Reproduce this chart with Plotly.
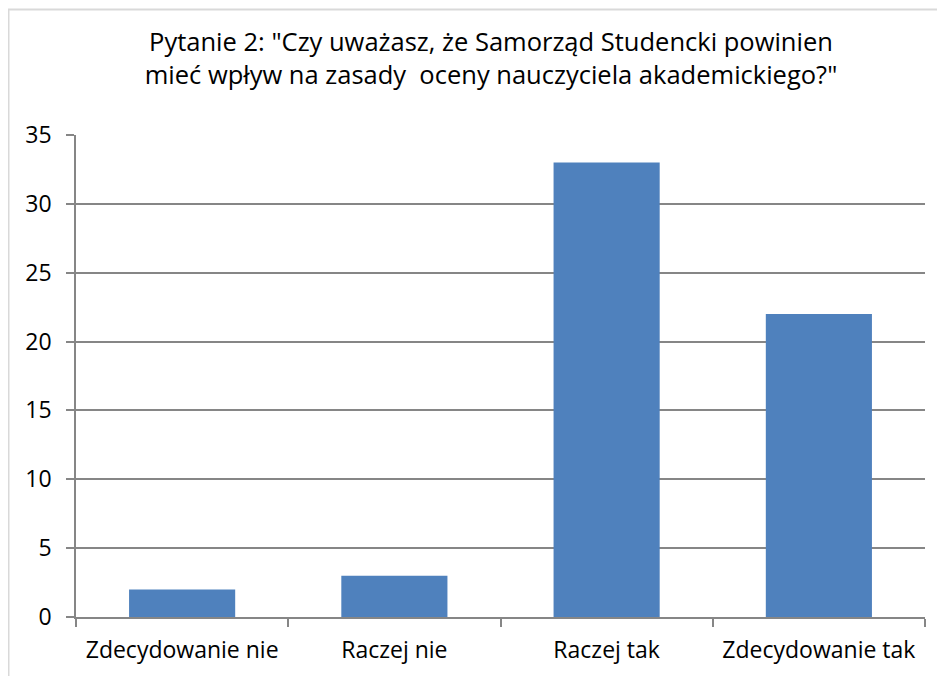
import plotly.graph_objects as go

categories = ["Zdecydowanie nie", "Raczej nie", "Raczej tak", "Zdecydowanie tak"]
values = [2, 3, 33, 22]
y_ticks = [0, 5, 10, 15, 20, 25, 30, 35]

title_text = ('Pytanie 2: "Czy uważasz, że Samorząd Studencki powinien<br>'
              'mieć wpływ na zasady&nbsp; oceny nauczyciela akademickiego?"')

FONT = "Open Sans, Noto Sans, sans-serif"

W, H = 945, 676
L, R, T, B = 68, 28, 127, 67
PW, PH = W - L - R, H - T - B

fig = go.Figure(go.Bar(
    x=categories, y=values,
    marker=dict(color="#4F81BD", line=dict(width=0)),
    width=0.5,
))

fig.update_layout(
    width=W, height=H,
    paper_bgcolor="white", plot_bgcolor="white",
    margin=dict(l=L, r=R, t=T, b=B),
    showlegend=False,
    font=dict(family=FONT, color="black", size=23),
    title=dict(text=title_text, x=483 / W, xanchor="center", xref="container",
               y=1 - 43 / H, yanchor="middle", yref="container",
               font=dict(family=FONT, size=25.5, color="black")),
    shapes=[
        dict(type="line", xref="paper", yref="paper", layer="below",
             x0=-L / PW + 0.5 / PW, x1=-L / PW + 0.5 / PW,
             y0=-B / PH, y1=1 + (T - 1.5) / PH,
             line=dict(color="#D9D9D9", width=2)),
        dict(type="line", xref="paper", yref="paper", layer="below",
             x0=-L / PW, x1=1 + R / PW,
             y0=1 + (T - 1.5) / PH, y1=1 + (T - 1.5) / PH,
             line=dict(color="#D9D9D9", width=2)),
    ],
)
fig.update_xaxes(
    showline=True, linecolor="#868686", linewidth=1.5,
    ticks="outside", ticklen=8, tickcolor="#868686", tickwidth=1.5,
    tickson="boundaries", showgrid=False, ticklabelstandoff=12,
    tickfont=dict(family=FONT, size=23, color="black"),
)
fig.update_yaxes(
    range=[0, 35], tickvals=y_ticks,
    showline=True, linecolor="#868686", linewidth=1.5,
    ticks="outside", ticklen=8, tickcolor="#868686", tickwidth=1.5,
    showgrid=True, gridcolor="#868686", gridwidth=1.5,
    zeroline=False, ticklabelstandoff=10,
    tickfont=dict(family=FONT, size=23, color="black"),
)

fig.write_html("out.html")
